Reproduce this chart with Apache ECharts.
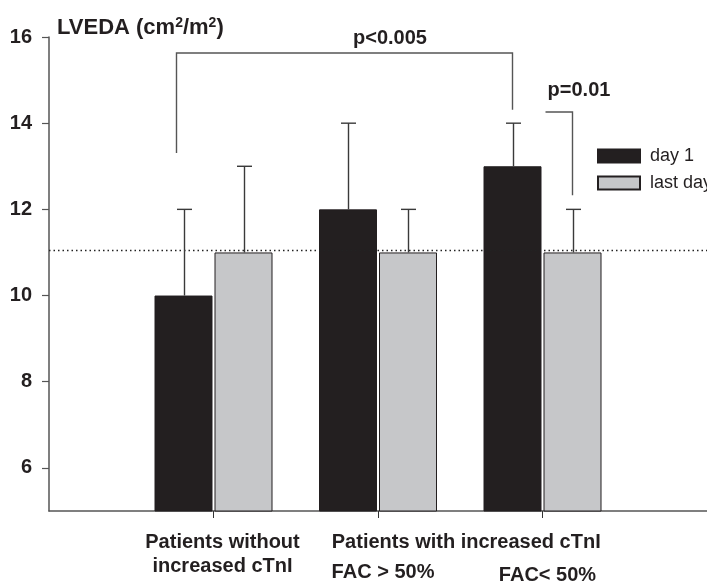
<!DOCTYPE html>
<html><head><meta charset="utf-8">
<script src="https://cdn.jsdelivr.net/npm/echarts@6/dist/echarts.min.js"></script>
<style>html,body{margin:0;padding:0;background:#fff}#c{width:707px;height:581px}</style>
</head><body><div id="c"></div>
<script>
// ---- data ----
const categories = ['Patients without increased cTnI', 'Patients with increased cTnI FAC > 50%', 'Patients with increased cTnI FAC< 50%'];
const seriesNames = ['day 1', 'last day'];
const day1 = [10, 12, 13];
const day1Upper = [12, 14, 14];
const lastDay = [11, 11, 11];
const lastDayUpper = [13, 12, 12];
const yTicks = [6, 8, 10, 12, 14, 16];
const yMin = 5, yMax = 16;
const refLine = 11.05;
const pLabels = ['p<0.005', 'p=0.01'];

// ---- style ----
const FONT = "'Liberation Sans', Arial, Helvetica, sans-serif";
const INK = '#231f20';
const GRAY = '#c6c7c9';
const AXIS = '#555555';
const BAR_W = 58, BAR_GAP = 2;
const OFF = (BAR_W + BAR_GAP) / 2;

const cats = [''].concat(categories, ['']);
const pad = a => ['-'].concat(a, ['-']);
const errData = (v, u) => v.map((val, i) => [i + 1, val, u[i]]);

function errRender(offset) {
  return function (params, api) {
    const idx = api.value(0);
    const base = api.coord([idx, api.value(1)]);
    const top = api.coord([idx, api.value(2)]);
    const cx = Math.round(base[0] + offset) + 0.5;
    return {
      type: 'group', children: [
        { type: 'line', shape: { x1: cx, y1: base[1], x2: cx, y2: top[1] }, style: { stroke: '#3a3a3a', lineWidth: 1.4 } },
        { type: 'line', shape: { x1: cx - 7.5, y1: top[1], x2: cx + 7.5, y2: top[1] }, style: { stroke: '#3a3a3a', lineWidth: 1.4 } }
      ]
    };
  };
}

const chart = echarts.init(document.getElementById('c'), null, { renderer: 'canvas' });
chart.setOption({
  animation: false,
  backgroundColor: '#fff',
  textStyle: { fontFamily: FONT },
  grid: { left: 49, right: 0, top: 37, bottom: 70, containLabel: false },
  title: {
    text: 'LVEDA (cm{s|2}/m{s|2})',
    left: 52, top: 11,
    textStyle: {
      fontFamily: FONT, fontSize: 22, fontWeight: 'bold', color: INK, lineHeight: 24,
      rich: { s: { fontFamily: FONT, fontSize: 14, fontWeight: 'bold', color: INK, verticalAlign: 'top', lineHeight: 24, padding: [0, 0, 10, 0] } }
    }
  },
  legend: {
    data: seriesNames, orient: 'vertical', left: 592, top: 142,
    itemWidth: 42, itemHeight: 13, itemGap: 9, icon: 'rect', selectedMode: false,
    textStyle: { fontFamily: FONT, fontSize: 18, color: INK, padding: [0, 0, 0, 5] }
  },
  xAxis: {
    type: 'category', data: cats, boundaryGap: false,
    axisLine: { lineStyle: { color: AXIS, width: 1.5 } },
    axisTick: { show: true, length: 7, interval: (i) => i >= 1 && i <= categories.length, lineStyle: { color: '#333', width: 1 } },
    axisLabel: { show: false },
    splitLine: { show: false }
  },
  yAxis: {
    type: 'value', min: yMin, max: yMax,
    axisLine: { show: true, lineStyle: { color: AXIS, width: 1.5 } },
    axisTick: { show: true, length: 7, customValues: yTicks, lineStyle: { color: AXIS, width: 1.2 } },
    axisLabel: { customValues: yTicks, margin: 17, fontFamily: FONT, fontSize: 20, fontWeight: 'bold', color: INK },
    splitLine: { show: false }
  },
  series: [
    {
      name: seriesNames[0], type: 'bar', data: pad(day1), barWidth: BAR_W, barGap: (BAR_GAP / BAR_W * 100) + '%',
      itemStyle: { color: INK, borderColor: INK, borderWidth: 1 },
      markLine: {
        silent: true, symbol: 'none', label: { show: false },
        lineStyle: { type: [1.5, 3], color: '#222', width: 1.3 },
        data: [{ yAxis: refLine }]
      }
    },
    {
      name: seriesNames[1], type: 'bar', data: pad(lastDay), barWidth: BAR_W,
      itemStyle: { color: GRAY, borderColor: INK, borderWidth: 1 }
    },
    { type: 'custom', renderItem: errRender(-OFF), data: errData(day1, day1Upper), encode: { x: 0, y: [1, 2] }, z: 5 },
    { type: 'custom', renderItem: errRender(OFF), data: errData(lastDay, lastDayUpper), encode: { x: 0, y: [1, 2] }, z: 5 }
  ]
});

// ---- annotations (brackets and category text) ----
const px = (cat, v) => chart.convertToPixel({ gridIndex: 0 }, [cat, v]);
const lineStyle = { stroke: '#555', lineWidth: 1.4, fill: null };
const b1L = px(1, 13.31), b1R = px(3, 14.31), b1T = px(1, 15.63);
const xL = b1L[0] - 37, xR = b1R[0] - OFF;
const b2a = px(3, 14.26), b2b = px(3, 12.33);
const txt = (text, x, y, size, bold) => ({
  type: 'text', x: x, y: y,
  style: { text: text, fill: INK, font: (bold ? 'bold ' : '') + size + 'px ' + FONT, textAlign: 'center', textVerticalAlign: 'middle' }
});
const c1 = px(1, yMin)[0], c2 = px(2, yMin)[0], c3 = px(3, yMin)[0];
chart.setOption({
  graphic: [
    { type: 'polyline', shape: { points: [[xL, b1L[1]], [xL, b1T[1]], [xR, b1T[1]], [xR, b1R[1]]] }, style: lineStyle },
    { type: 'polyline', shape: { points: [[b2a[0] + 3, b2a[1]], [b2a[0] + OFF, b2a[1]], [b2a[0] + OFF, b2b[1]]] }, style: lineStyle },
    txt(pLabels[0], 390, 38, 20, true),
    txt(pLabels[1], 579, 90, 20, true),
    txt('Patients without', c1 + 9, 542, 20, true),
    txt('increased cTnI', c1 + 9, 566, 20, true),
    txt('Patients with increased cTnI', (c2 + c3) / 2 + 6, 542, 20, true),
    txt('FAC > 50%', c2 + 5, 572, 20, true),
    txt('FAC< 50%', c3 + 5, 575, 20, true)
  ]
});
</script>
</body></html>
